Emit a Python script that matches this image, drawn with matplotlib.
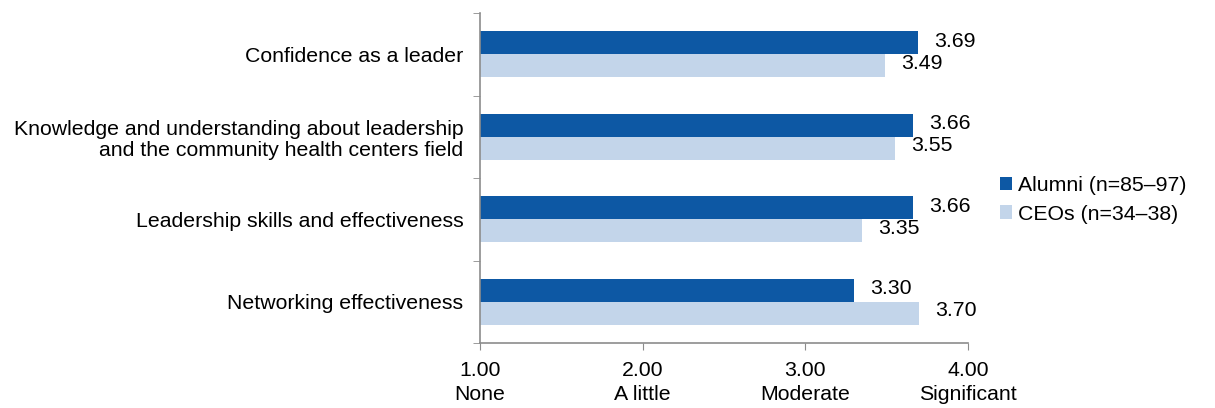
import numpy as np
import matplotlib.pyplot as plt

plt.rcParams['font.family'] = ['Liberation Sans', 'DejaVu Sans']

# --- data ---
categories = ["Confidence as a leader",
              "Knowledge and understanding about leadership\nand the community health centers field",
              "Leadership skills and effectiveness",
              "Networking effectiveness"]
alumni = [3.69, 3.66, 3.66, 3.30]
ceos = [3.49, 3.55, 3.35, 3.70]
series_names = ["Alumni (n=85\u201397)", "CEOs (n=34\u201338)"]
xticks = [1, 2, 3, 4]
xtick_labels = ["1.00\nNone", "2.00\nA little", "3.00\nModerate", "4.00\nSignificant"]

dark = "#0d58a4"
light = "#c3d5ea"
axis_grey = "#8c8c8c"
fs = 15.3

fig = plt.figure(figsize=(12.15, 4.08), dpi=100)
ax = fig.add_axes([0.395, 0.159, 0.4017, 0.809])

y = np.arange(len(categories))
h = 0.28
ax.barh(y - h/2, np.array(alumni) - 1, left=1, height=h, color=dark, label=series_names[0])
ax.barh(y + h/2, np.array(ceos) - 1, left=1, height=h, color=light, label=series_names[1])

for yi, a, c in zip(y, alumni, ceos):
    ax.text(a + 0.1, yi - h/2 - 0.02, "%.2f" % a, va="center", ha="left", fontsize=fs)
    ax.text(c + 0.1, yi + h/2 - 0.03, "%.2f" % c, va="center", ha="left", fontsize=fs)

ax.set_xlim(1, 4)
ax.set_ylim(len(categories) - 0.5, -0.5)
ax.set_xticks(xticks)
ax.set_xticklabels(xtick_labels, fontsize=fs, linespacing=1.35)
ax.set_yticks(y)
ax.set_yticklabels(categories, fontsize=fs, linespacing=1.15)
ax.set_yticks(np.arange(len(categories) + 1) - 0.5, minor=True)
ax.tick_params(axis="y", which="major", length=0, pad=12)
ax.tick_params(axis="y", which="minor", length=5, color=axis_grey, direction="out")
ax.tick_params(axis="x", length=5, color=axis_grey, direction="out", pad=8)

for s in ["top", "right"]:
    ax.spines[s].set_visible(False)
for s in ["left", "bottom"]:
    ax.spines[s].set_color(axis_grey)
    ax.spines[s].set_linewidth(1.2)

fig.legend(loc="center left", bbox_to_anchor=(0.807, 0.51), frameon=False,
           fontsize=fs, handlelength=0.6, handleheight=0.6, handletextpad=0.25,
           labelspacing=0.45)

fig.savefig("out.png", dpi=100)
